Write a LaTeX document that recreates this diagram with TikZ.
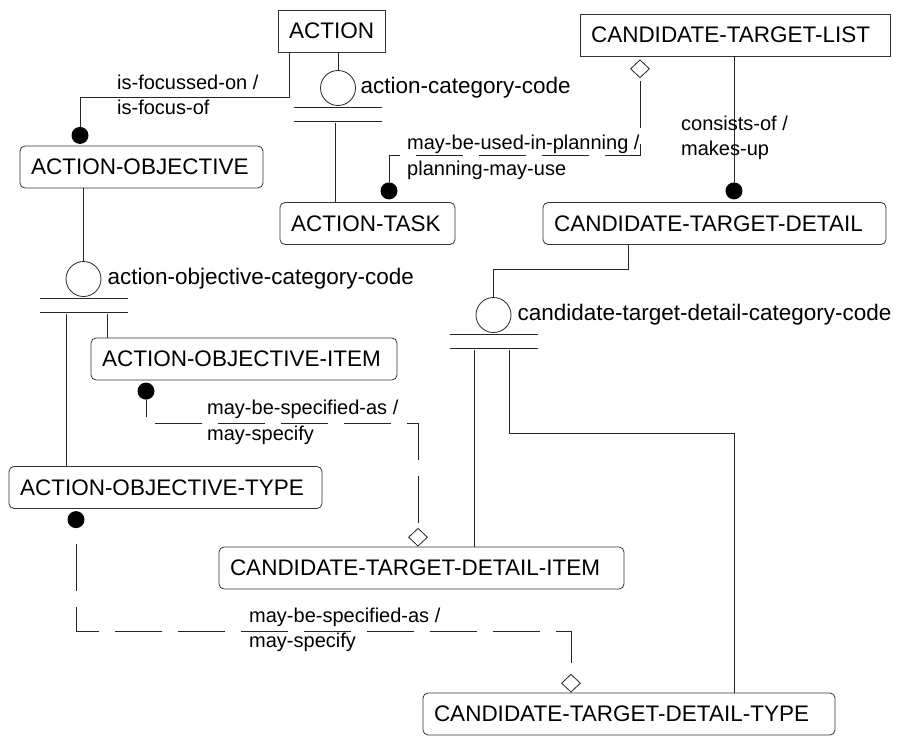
\documentclass[tikz,border=0pt]{standalone}
\usepackage{fontspec}
\setmainfont{Liberation Sans}
\usetikzlibrary{shapes.geometric, positioning}

\newcommand{\entfont}{\fontsize{22.5}{26}\selectfont}
\newcommand{\relfont}{\fontsize{20}{25.5}\selectfont}

\begin{document}
\begin{tikzpicture}[x=1pt, y=-1pt,
  indep/.style={draw=black!80, line width=0.8pt, minimum height=42pt,
    inner xsep=11pt, align=left, font=\entfont},
  dep/.style={indep, rounded corners=5pt},
  cat/.style={circle, draw=black!85, line width=0.8pt, minimum size=35pt, inner sep=0pt},
  attrtext/.style={inner sep=0pt, font=\entfont},
  reltext/.style={anchor=west, align=left, inner sep=0pt, font=\relfont},
  dot/.style={circle, fill=black, minimum size=17pt, inner sep=0pt},
  diam/.style={diamond, aspect=1, draw=black!85, fill=white, line width=0.8pt,
    minimum width=19pt, minimum height=18pt, inner sep=0pt},
  rel/.style={draw=black!85, line width=0.8pt},
  reldash/.style={rel, dash pattern=on 47pt off 16pt}]

\fill[white] (0,0) rectangle (897,739);
\useasboundingbox (0,0) rectangle (897,739);

% entities
\node[indep, text width=85pt] (action) at (331.5,31) {ACTION};
\node[indep, text width=288pt] (ctl) at (735,35) {CANDIDATE-TARGET-LIST};
\node[dep, text width=221pt] (ao) at (141.5,167) {ACTION-OBJECTIVE};
\node[dep, text width=153pt] (at) at (367.5,223.5) {ACTION-TASK};
\node[dep, text width=321pt] (ctd) at (714.5,223.5) {CANDIDATE-TARGET-DETAIL};
\node[dep, text width=284pt] (aoi) at (244,359) {ACTION-OBJECTIVE-ITEM};
\node[dep, text width=291pt] (aot) at (165.5,487.5) {ACTION-OBJECTIVE-TYPE};
\node[dep, text width=383pt] (ctdi) at (421.5,568) {CANDIDATE-TARGET-DETAIL-ITEM};
\node[dep, text width=390pt] (ctdt) at (629,714) {CANDIDATE-TARGET-DETAIL-TYPE};

% category discriminators
\node[cat] (c1) at (338,88) {};
\node[attrtext, right=4.5pt of c1] (c1t) {action-category-code};
\node[cat] (c2) at (83.5,279) {};
\node[attrtext, right=6pt of c2] (c2t) {action-objective-category-code};
\node[cat] (c3) at (493.5,315) {};
\node[attrtext, right=6pt of c3] (c3t) {candidate-target-detail-category-code};

\foreach \c in {c1,c2,c3} {
  \draw[rel] ([shift={(-44,1.8)}]\c.south) -- ++(88,0);
  \draw[rel] ([shift={(-44,15.8)}]\c.south) -- ++(88,0);
}

\draw[rel] (action.south -| c1) -- (c1.north);
\coordinate (c1l) at ([shift={(-3,17.5)}]c1.south);
\draw[rel] (c1l) -- (c1l |- at.north);

\draw[rel] (ao.south -| c2) -- (c2.north);
\coordinate (c2l) at ([shift={(-17.5,17.5)}]c2.south);
\coordinate (c2r) at ([shift={(23.5,17.5)}]c2.south);
\draw[rel] (c2l) -- (c2l |- aot.north);
\draw[rel] (c2r) -- (c2r |- aoi.north);

\draw[rel] ([shift={(-86.5,0)}]ctd.south) -- ++(0,24) -| (c3.north);
\coordinate (c3l) at ([shift={(-19.5,17.5)}]c3.south);
\coordinate (c3r) at ([shift={(15.5,17.5)}]c3.south);
\draw[rel] (c3l) -- (c3l |- ctdi.north);
\draw[rel] (c3r) -- ++(0,82.5) -| ([shift={(105,0)}]ctdt.north);

% relationships
\node[dot, anchor=south] (d1) at ([shift={(-61.5,-1.5)}]ao.north) {};
\draw[rel] ([shift={(-42.5,0)}]action.south) -- ++(0,45) -| (d1.north);
\node[reltext] (r1t) at (117,95) {is-focussed-on /\\is-focus-of};

\node[dot, anchor=south] (d2) at ([shift={(21.5,-2.5)}]at.north) {};
\node[diam, anchor=north] (m1) at ([shift={(-95,3)}]ctl.south) {};
\draw[reldash, dash phase=9.5pt] (d2.north) -- ++(0,-26.5) -| (m1.south);
\node[reltext] (r2t) at (407,157.5) {may-be-used-in-planning /\\planning-may-use};

\node[dot, anchor=south] (d3) at ([shift={(19.5,-2.5)}]ctd.north) {};
\draw[rel] (d3.north |- ctl.south) -- (d3.north);
\node[reltext] (r3t) at (681,138) {consists-of /\\makes-up};

\node[dot, anchor=north] (d4) at ([shift={(-98,2)}]aoi.south) {};
\node[diam, anchor=south] (m2) at ([shift={(-3.5,0)}]ctdi.north) {};
\draw[reldash, dash phase=30pt] (d4.south) -- ++(0,24) -| (m2.north);
\node[reltext] (r4t) at (207,422.5) {may-be-specified-as /\\may-specify};

\node[dot, anchor=north] (d5) at ([shift={(-89.5,2)}]aot.south) {};
\node[diam, anchor=south] (m3) at ([shift={(-58,0)}]ctdt.north) {};
\draw[reldash, dash phase=47pt] (d5.south) -- ++(0,103) -| (m3.north);
\node[reltext] (r5t) at (249,630) {may-be-specified-as /\\may-specify};

\end{tikzpicture}
\end{document}
